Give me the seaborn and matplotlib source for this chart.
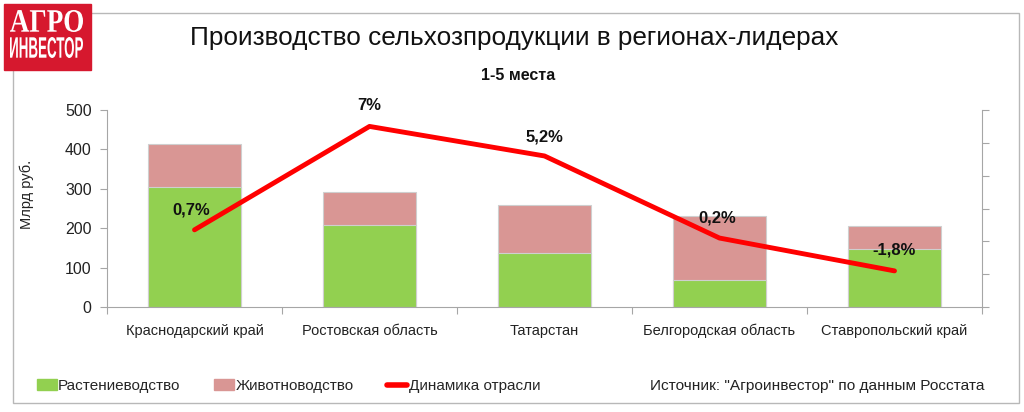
import numpy as np
import matplotlib
matplotlib.use("Agg")
import matplotlib.pyplot as plt
import seaborn as sns
from matplotlib.patches import Rectangle, PathPatch
from matplotlib.lines import Line2D
from matplotlib.textpath import TextPath
from matplotlib.font_manager import FontProperties
from matplotlib.transforms import Affine2D

# Data
regions = ["Краснодарский край", "Ростовская область", "Татарстан",
           "Белгородская область", "Ставропольский край"]
crops = [304, 208, 136, 68, 146]          # Растениеводство
livestock = [110, 83, 123, 164, 59]       # Животноводство
growth = [0.7, 7.0, 5.2, 0.2, -1.8]       # Динамика отрасли, %
growth_labels = ["0,7%", "7%", "5,2%", "0,2%", "-1,8%"]

GREEN = "#92d050"
PINK = "#d99694"
RED = "#ff0000"
GRAY = "#a6a6a6"

sns.set_theme(style="white")
plt.rcParams['font.family'] = ['Liberation Sans', 'DejaVu Sans']

W, H = 1024, 412
fig = plt.figure(figsize=(W / 100, H / 100), dpi=100)
fig.patch.set_facecolor("white")

def fx(px):
    return px / W

def fy(py):
    return 1 - py / H

def fit_text(s, box, fp):
    # squeeze a text path into a pixel box (x0, y0, x1, y1), top-left origin
    x0, y0, x1, y1 = box
    tp = TextPath((0, 0), s, size=10, prop=fp)
    bb = tp.get_extents()
    tr = (Affine2D().translate(-bb.x0, -bb.y0)
          .scale((x1 - x0) / bb.width, (y1 - y0) / bb.height)
          .translate(x0, H - y1).scale(1 / W, 1 / H))
    p = PathPatch(tr.transform_path(tp), facecolor="white", lw=0,
                  transform=fig.transFigure, zorder=6)
    fig.add_artist(p)

# outer frame
fig.patches.append(Rectangle((fx(13), fy(403)), fx(1019) - fx(13), fy(13) - fy(403),
                             transform=fig.transFigure, fill=False, edgecolor="#b8b8b8", lw=1))

ax = fig.add_axes([fx(107), fy(307), fx(982) - fx(107), fy(110) - fy(307)])
x = np.arange(len(regions))
totals = [c + l for c, l in zip(crops, livestock)]

sns.barplot(x=x, y=totals, ax=ax, color=PINK, width=0.53, edgecolor="#cfcfcf",
            linewidth=0.8, saturation=1, native_scale=True)
sns.barplot(x=x, y=crops, ax=ax, color=GREEN, width=0.53, edgecolor="#cfcfcf",
            linewidth=0.8, saturation=1, native_scale=True)

ax.set_xlim(-0.5, len(regions) - 0.5)
ax.set_ylim(0, 500)
ax.set_yticks(range(0, 501, 100))
ax.set_xticks(x)
ax.set_xticklabels(regions, fontsize=10.5, color="#222222")
ax.set_xticks(np.arange(-0.5, len(regions), 1), minor=True)
ax.tick_params(axis="x", which="major", length=0, pad=12)
ax.tick_params(axis="x", which="minor", length=5, width=0.8, color=GRAY, direction="out", bottom=True)
ax.tick_params(axis="y", length=5, width=0.8, color=GRAY, direction="out", left=True,
               labelsize=11.5, labelcolor="#222222", pad=6)
ax.set_ylabel("Млрд руб.", fontsize=10.5, color="#222222")
ax.yaxis.set_label_coords(-0.083, 0.57)
for s in ["top", "right"]:
    ax.spines[s].set_visible(False)
for s in ["left", "bottom"]:
    ax.spines[s].set_color(GRAY)
    ax.spines[s].set_linewidth(0.8)

ax2 = ax.twinx()
sns.lineplot(x=x, y=growth, ax=ax2, color=RED, linewidth=3.5, solid_capstyle="round")
ax2.set_ylim(-4, 8)
ax2.set_yticks(range(-4, 9, 2))
ax2.set_yticklabels([])
ax2.tick_params(axis="y", length=5, width=0.8, color=GRAY, direction="out", right=True)
for s in ["top", "left", "bottom"]:
    ax2.spines[s].set_visible(False)
ax2.spines["right"].set_color(GRAY)
ax2.spines["right"].set_linewidth(0.8)
ax2.set_xlim(-0.5, len(regions) - 0.5)

offsets = [(-0.02, 1.2), (0.0, 1.25), (0.0, 1.15), (-0.015, 1.2), (0.0, 1.25)]
for xi, g, lab, (dx, dy) in zip(x, growth, growth_labels, offsets):
    ax2.text(xi + dx, g + dy, lab, ha="center", va="center", fontsize=12,
             fontweight="bold", color="#111111")

# titles
fig.text(fx(514), fy(38), "Производство сельхозпродукции в регионах-лидерах", ha="center",
         va="center", fontsize=18.8, color="#111111")
fig.text(fx(518), fy(76), "1-5 места", ha="center", va="center", fontsize=11.5,
         fontweight="bold", color="#111111")

# logo
fig.patches.append(Rectangle((fx(4), fy(70)), fx(91) - fx(4), fy(4) - fy(70),
                             transform=fig.transFigure, color="#d6182e", zorder=5))
fit_text("АГРО", (10, 10, 83, 32), FontProperties(family="Liberation Serif", weight="bold"))
fit_text("ИНВЕСТОР", (10, 37, 83, 58), FontProperties(family="Liberation Sans", weight="bold"))

# legend
handles = [Rectangle((0, 0), 1, 1, color=GREEN), Rectangle((0, 0), 1, 1, color=PINK),
           Line2D([0], [0], color=RED, lw=4)]
fig.legend(handles, ["Растениеводство", "Животноводство", "Динамика отрасли"],
           loc="center left", bbox_to_anchor=(fx(23), fy(386)), ncol=3, frameon=False,
           fontsize=11, handlelength=1.3, handleheight=0.7, handletextpad=0.1,
           columnspacing=2.2)
fig.text(fx(984), fy(386), "Источник: \"Агроинвестор\" по данным Росстата", ha="right",
         va="center", fontsize=11.1, color="#222222")

fig.savefig("out.png", dpi=100)
